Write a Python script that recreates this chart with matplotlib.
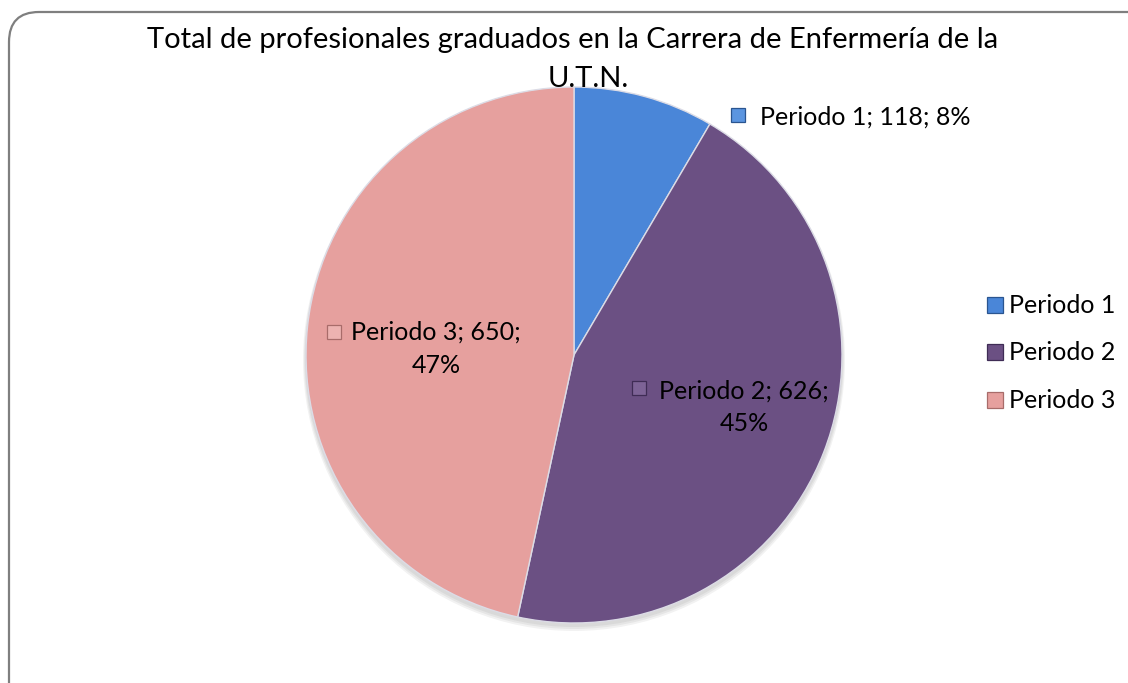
import matplotlib
matplotlib.use("Agg")
import matplotlib.pyplot as plt
from matplotlib.patches import FancyBboxPatch, Ellipse

title_line1 = "Total de profesionales graduados en la Carrera de Enfermería de la"
title_line2 = "U.T.N."
categories = ["Periodo 1", "Periodo 2", "Periodo 3"]
values = [118, 626, 650]
percents = ["8%", "45%", "47%"]
colors = ["#4A86D8", "#6B5083", "#E6A09E"]
marker_faces = ["#5B95E0", "#7D6396", "#EDB3B1"]
edge_colors = ["#2A5590", "#3F2C55", "#A86C6A"]

plt.rcParams['font.family'] = ['Lato', 'DejaVu Sans']

W, H = 1128, 683
fig = plt.figure(figsize=(W / 100, H / 100), dpi=100)

# background frame (pixel coordinates)
bg = fig.add_axes([0, 0, 1, 1])
bg.set_xlim(0, W)
bg.set_ylim(H, 0)
bg.axis('off')
frame = FancyBboxPatch((9, 12), 1250, 900, boxstyle="round,pad=0,rounding_size=30",
                       facecolor='white', edgecolor='#7f7f7f', linewidth=1.6)
bg.add_patch(frame)

cx, cy, r = 574, 355, 268
# soft shadow under the pie
for k, a in enumerate([0.05, 0.05, 0.05]):
    bg.add_patch(Ellipse((cx, cy + 3 + k), 2 * r + 2 + 2 * k, 2 * r + 2 + 2 * k,
                         facecolor='#000000', alpha=a, edgecolor='none'))

ax = fig.add_axes([(cx - r) / W, (H - cy - r) / H, 2 * r / W, 2 * r / H])
wedges, _ = ax.pie(values, colors=colors, startangle=90, counterclock=False,
                   wedgeprops=dict(edgecolor='#dcdce6', linewidth=1.0))
ax.set_xlim(-1, 1)
ax.set_ylim(-1, 1)
ax.set_aspect('equal')

def px(x, y):
    return (x - cx) / r, (cy - y) / r

fs = 18
# data labels: (text lines with pixel anchor, marker pixel position)
label_layout = [
    dict(lines=[((760, 125), 'left')], marker_xy=(738, 115)),
    dict(lines=[((744, 399), 'center'), ((744, 431), 'center')], marker_xy=(639, 388)),
    dict(lines=[((436, 340), 'center'), ((436, 373), 'center')], marker_xy=(334, 332)),
]
for i, lay in enumerate(label_layout):
    if len(lay['lines']) == 1:
        texts = [f"{categories[i]}; {values[i]}; {percents[i]}"]
    else:
        texts = [f"{categories[i]}; {values[i]};", percents[i]]
    for s, ((x, y), ha) in zip(texts, lay['lines']):
        tx, ty = px(x, y)
        ax.text(tx, ty, s, ha=ha, va='baseline', fontsize=fs, color='black')
    mx, my = px(*lay['marker_xy'])
    ax.plot([mx], [my], marker='s', markersize=9.5, markerfacecolor=marker_faces[i],
            markeredgecolor=edge_colors[i], markeredgewidth=0.9, clip_on=False)

# title
fig.text(573 / W, 1 - 48 / H, title_line1, ha='center', va='baseline', fontsize=21, color='black')
fig.text(588 / W, 1 - 87 / H, title_line2, ha='center', va='baseline', fontsize=21, color='black')

# legend (manual)
legend_rows = [313, 360, 408]
for i, yb in enumerate(legend_rows):
    bg.plot([995], [yb - 8], marker='s', markersize=11, markerfacecolor=colors[i],
            markeredgecolor=edge_colors[i], markeredgewidth=0.9)
    bg.text(1009, yb, categories[i], ha='left', va='baseline', fontsize=fs, color='black')

fig.savefig("out.png", dpi=100)
